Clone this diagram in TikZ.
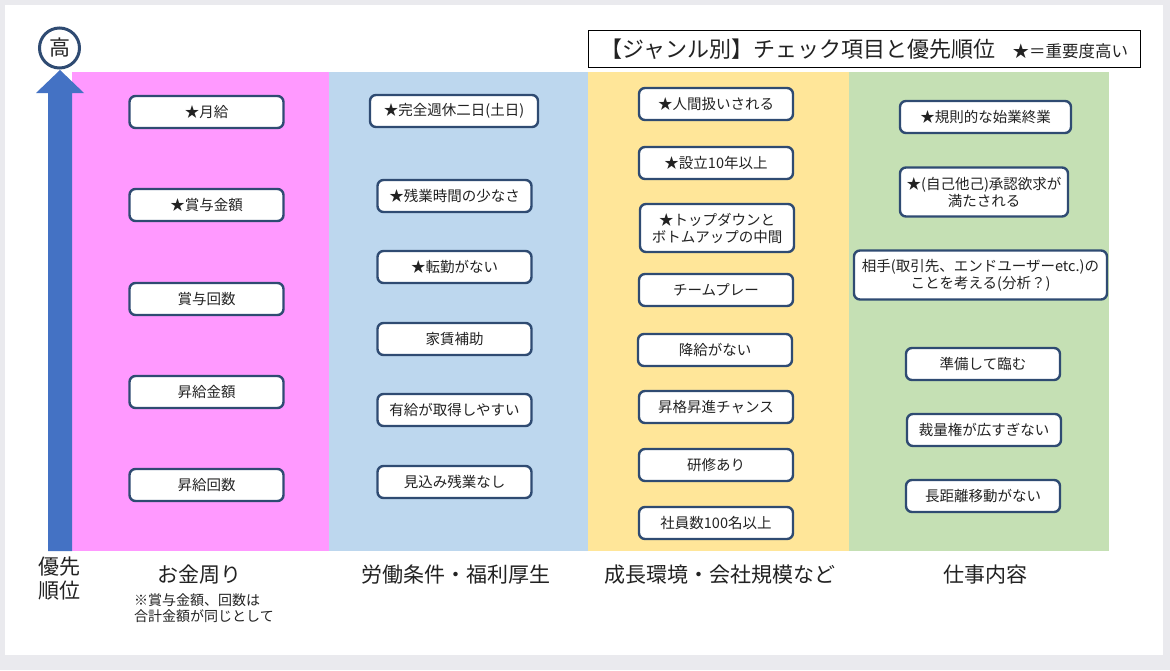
\documentclass[tikz,border=0pt]{standalone}
\usepackage{fontspec}
\setmainfont{Noto Sans CJK JP}
\definecolor{framegray}{HTML}{EAEAEE}
\definecolor{pinkc}{HTML}{FF99FF}
\definecolor{bluec}{HTML}{BDD7EE}
\definecolor{yellowc}{HTML}{FFE699}
\definecolor{greenc}{HTML}{C5E0B4}
\definecolor{arrowblue}{HTML}{4472C4}
\definecolor{boxline}{HTML}{2F4B72}
\definecolor{txt}{HTML}{222222}
\tikzset{
  item/.style={draw=boxline, line width=2.4pt, fill=white, rounded corners=6pt,
    minimum height=32pt, minimum width=154pt, inner sep=2pt, text=txt,
    font=\fontsize{14.5}{17}\selectfont, align=center},
  biglabel/.style={text=txt, font=\fontsize{21}{26}\selectfont, align=center, inner sep=0pt},
}
\begin{document}
\begin{tikzpicture}[x=1pt,y=-1pt]
\useasboundingbox (0,0) rectangle (1170,670);
\fill[framegray] (0,0) rectangle (1170,670);
\fill[white] (5,5) rectangle (1163,655);
% columns
\fill[pinkc] (72,72) rectangle (329,551);
\fill[bluec] (329,72) rectangle (588,551);
\fill[yellowc] (588,72) rectangle (849,551);
\fill[greenc] (849,72) rectangle (1109,551);
% priority arrow
\fill[arrowblue] (48,551) -- (48,93) -- (36,93) -- (60,70) -- (84,93) -- (72,93) -- (72,551) -- cycle;
\node[circle, draw=boxline, line width=3pt, fill=white, minimum size=40pt, inner sep=0pt,
  text=txt, font=\fontsize{21}{24}\selectfont] (hi) at (59.5,48) {高};
% title
\node[draw=black, line width=1pt, fill=white, minimum width=552pt, minimum height=37pt,
  inner sep=0pt, text=txt] (title) at (864.5,49)
  {{\fontsize{22}{25}\selectfont 【ジャンル別】チェック項目と優先順位}\hspace{17pt}{\fontsize{16.5}{20}\selectfont ★＝重要度高い}};
% money column
\node[item] (m1) at (206.5,112) {★月給};
\node[item] (m2) at (206.5,205) {★賞与金額};
\node[item] (m3) at (206.5,299) {賞与回数};
\node[item] (m4) at (206.5,392) {昇給金額};
\node[item] (m5) at (206.5,485) {昇給回数};
% working conditions column
\node[item, minimum width=168pt] (b1) at (454,111) {★完全週休二日(土日)};
\node[item] (b2) at (454.5,196) {★残業時間の少なさ};
\node[item] (b3) at (454.5,267) {★転勤がない};
\node[item] (b4) at (454.5,339) {家賃補助};
\node[item] (b5) at (454.5,410) {有給が取得しやすい};
\node[item] (b6) at (454.5,482) {見込み残業なし};
% growth column
\node[item] (y1) at (716,104) {★人間扱いされる};
\node[item] (y2) at (716,163) {★設立10年以上};
\node[item, minimum height=48pt] (y3) at (717,228) {★トップダウンと\\ボトムアップの中間};
\node[item] (y4) at (716,290) {チームプレー};
\node[item] (y5) at (715,350) {降給がない};
\node[item] (y6) at (716,407) {昇格昇進チャンス};
\node[item] (y7) at (716,465) {研修あり};
\node[item] (y8) at (716,523) {社員数100名以上};
% work content column
\node[item, minimum width=171pt] (g1) at (985.5,117) {★規則的な始業終業};
\node[item, minimum width=168pt, minimum height=49pt] (g2) at (984,192) {★(自己他己)承認欲求が\\満たされる};
\node[item, minimum width=253pt, minimum height=49pt] (g3) at (980.5,275) {相手(取引先、エンドユーザーetc.)の\\ことを考える(分析？)};
\node[item] (g4) at (983,364) {準備して臨む};
\node[item] (g5) at (984,430) {裁量権が広すぎない};
\node[item] (g6) at (983,496) {長距離移動がない};
% labels
\node[biglabel, font=\fontsize{21}{24}\selectfont] (prio) at (59,579) {優先\\順位};
\node[biglabel] (lm) at (199,575) {お金周り};
\node[text=txt, font=\fontsize{14}{16}\selectfont, align=left, anchor=west, inner sep=0pt] (note) at (134,608) {※賞与金額、回数は\\合計金額が同じとして};
\node[biglabel] (lb) at (456,575) {労働条件・福利厚生};
\node[biglabel] (ly) at (720,575) {成長環境・会社規模など};
\node[biglabel] (lg) at (985,575) {仕事内容};
\end{tikzpicture}
\end{document}
